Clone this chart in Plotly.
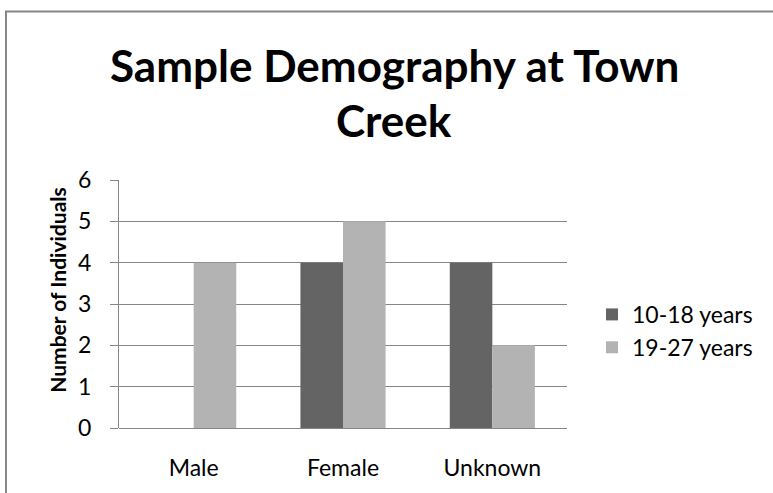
import plotly.graph_objects as go

categories = ["Male", "Female", "Unknown"]
series_names = ["10-18 years", "19-27 years"]
values_10_18 = [0, 4, 4]
values_19_27 = [4, 5, 2]
y_ticks = [0, 1, 2, 3, 4, 5, 6]
title_lines = ["Sample Demography at Town", "Creek"]
y_title = "Number of Individuals"

colors = ["#646464", "#B3B3B3"]
font_family = "Lato, Open Sans, Liberation Sans, sans-serif"

fig = go.Figure()
for name, vals, col in zip(series_names, [values_10_18, values_19_27], colors):
    fig.add_trace(go.Bar(name=name, x=categories, y=vals, marker=dict(color=col, line=dict(width=0))))

W, H = 773, 493
L, R, T, B = 119, 206, 180, 60
PW, PH = W - L - R, H - T - B

annotations = []
for line, ycen in zip(title_lines, [63, 119]):
    annotations.append(dict(
        text=f"<b>{line}</b>", showarrow=False,
        xref="paper", yref="paper",
        x=(394 - L) / PW, y=(H - B - ycen) / PH,
        xanchor="center", yanchor="middle",
        font=dict(size=44, family=font_family, color="black"),
    ))
annotations.append(dict(
    text=f"<b>{y_title}</b>", showarrow=False, textangle=-90,
    xref="paper", yref="paper",
    x=(58 - L) / PW, y=(H - B - 292) / PH,
    xanchor="center", yanchor="middle",
    font=dict(size=21, family=font_family, color="black"),
))

fig.update_layout(
    width=W, height=H,
    margin=dict(l=L, r=R, t=T, b=B),
    paper_bgcolor="white", plot_bgcolor="white",
    barmode="group", bargap=0.43, bargroupgap=0,
    font=dict(family=font_family, color="black"),
    annotations=annotations,
    showlegend=True,
    legend=dict(
        x=(592 - L) / PW, xanchor="left", y=(H - B - 334) / PH, yanchor="middle",
        font=dict(size=23, family=font_family, color="black"),
        itemwidth=30, tracegroupgap=0,
        bgcolor="rgba(0,0,0,0)",
    ),
    xaxis=dict(
        showgrid=False, showline=False, ticks="",
        tickfont=dict(size=23, family=font_family, color="black"),
        ticklabelstandoff=24,
    ),
    yaxis=dict(
        range=[0, 6], tickvals=y_ticks,
        showgrid=True, gridcolor="#868686", gridwidth=1,
        showline=True, linecolor="#868686", linewidth=1,
        ticks="outside", ticklen=8, tickcolor="#868686",
        tickfont=dict(size=23, family=font_family, color="black"),
        ticklabelstandoff=14,
        zeroline=True, zerolinecolor="#868686", zerolinewidth=1,
    ),
    shapes=[dict(type="rect", xref="paper", yref="paper",
                 x0=-(L - 6) / PW, x1=(W + 10 - L) / PW,
                 y0=-(B + 10) / PH, y1=(H - 8 - B) / PH,
                 line=dict(color="#868686", width=2), fillcolor="rgba(0,0,0,0)", layer="below")],
)

fig.write_html("out.html", config={"displayModeBar": False},
               post_script="document.body.style.margin='0';document.body.style.overflow='hidden';")
